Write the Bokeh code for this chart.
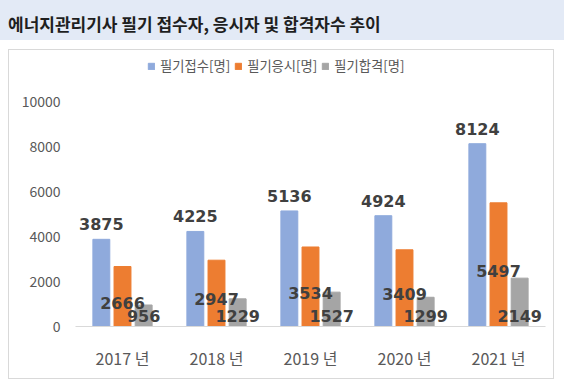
from bokeh.plotting import figure
from bokeh.models import (ColumnDataSource, FactorRange, Range1d, FixedTicker,
                          Legend, LegendItem, Div)
from bokeh.layouts import column
from bokeh.core.properties import value
from bokeh.transform import dodge
from bokeh.embed import file_html
from bokeh.resources import INLINE

title_text = "에너지관리기사 필기 접수자, 응시자 및 합격자수 추이"
categories = ["2017 년", "2018 년", "2019 년", "2020 년", "2021 년"]
series_names = ["필기접수[명]", "필기응시[명]", "필기합격[명]"]
applied = [3875, 4225, 5136, 4924, 8124]
took = [2666, 2947, 3534, 3409, 5497]
passed = [956, 1229, 1527, 1299, 2149]
y_ticks = [0, 2000, 4000, 6000, 8000, 10000]

colors = ["#8faadc", "#ed7d31", "#a5a5a5"]
label_color = "#404040"
axis_text_color = "#595959"
kr_font = "Noto Sans CJK KR"

src = ColumnDataSource(dict(
    cat=categories,
    applied=applied,
    took=took,
    passed=passed,
    applied_lbl=[str(v) for v in applied],
    took_lbl=[str(v) for v in took],
    passed_lbl=[str(v) for v in passed],
    took_half=[v / 2 for v in took],
    zero=[0] * len(categories),
))

header = Div(
    text=('<div style="position:absolute; left:8px; top:15px; white-space:nowrap; '
          'font-family:\'Noto Sans CJK KR\'; font-weight:bold; font-size:17px; '
          'line-height:18px; color:#1f1f1f;">' + title_text + '</div>'),
    width=564, height=40, margin=0,
    styles={"background-color": "#e3eaf6", "position": "relative"})

p = figure(width=546, height=330, output_backend="svg", toolbar_location=None,
           x_range=FactorRange(*categories, range_padding=0),
           y_range=Range1d(0, 12267),
           min_border_left=66, min_border_right=10,
           min_border_top=0, min_border_bottom=54,
           margin=(9, 0, 0, 8),
           styles={"border": "1px solid #d9d9d9"})
p.outline_line_color = None
p.background_fill_color = "white"
p.border_fill_color = "white"
p.grid.grid_line_color = None

offs = [-0.225, 0.0, 0.225]
w = 0.18
fields = ["applied", "took", "passed"]
renderers = []
for f, o, c in zip(fields, offs, colors):
    r = p.vbar(x=dodge("cat", o, range=p.x_range), top=f, width=w, source=src,
               fill_color=c, line_color=c)
    renderers.append(r)

lbl_kw = dict(source=src, text_font=value("DejaVu Sans"), text_font_size="16px",
              text_font_style="bold", text_color=label_color,
              text_align="center", text_baseline="alphabetic")
p.text(x=dodge("cat", offs[0], range=p.x_range), y="applied", text="applied_lbl",
       y_offset=-15, **lbl_kw)
p.text(x=dodge("cat", offs[1], range=p.x_range), y="took_half", text="took_lbl",
       y_offset=6, **lbl_kw)
p.text(x=dodge("cat", offs[2], range=p.x_range), y="zero", text="passed_lbl",
       y_offset=-11, **lbl_kw)

legend = Legend(items=[LegendItem(label=n, renderers=[r]) for n, r in zip(series_names, renderers)],
                orientation="horizontal", location=(72, 251),
                label_text_font=kr_font, label_text_font_size="13.3px",
                label_text_color=axis_text_color, glyph_width=8, glyph_height=8,
                label_standoff=5, spacing=4, padding=0, margin=0,
                label_height=14, background_fill_alpha=0, border_line_color=None)
p.add_layout(legend, "center")

# axes
p.yaxis.ticker = FixedTicker(ticks=y_ticks)
p.yaxis.axis_line_color = None
p.yaxis.major_tick_line_color = None
p.yaxis.minor_tick_line_color = None
p.yaxis.major_tick_out = 0
p.yaxis.major_tick_in = 0
p.yaxis.major_label_standoff = 15
p.yaxis.major_label_text_font = kr_font
p.yaxis.major_label_text_font_size = "14px"
p.yaxis.major_label_text_color = axis_text_color

p.xaxis.axis_line_color = "#d9d9d9"
p.xaxis.axis_line_width = 1
p.xaxis.major_tick_line_color = None
p.xaxis.minor_tick_line_color = None
p.xaxis.major_tick_out = 0
p.xaxis.major_tick_in = 0
p.xaxis.major_label_standoff = 19
p.xaxis.major_label_text_font = kr_font
p.xaxis.major_label_text_font_size = "16px"
p.xaxis.major_label_text_color = axis_text_color

layout = column(header, p, spacing=0, margin=0)
open("out.html", "w").write(file_html(layout, INLINE))
